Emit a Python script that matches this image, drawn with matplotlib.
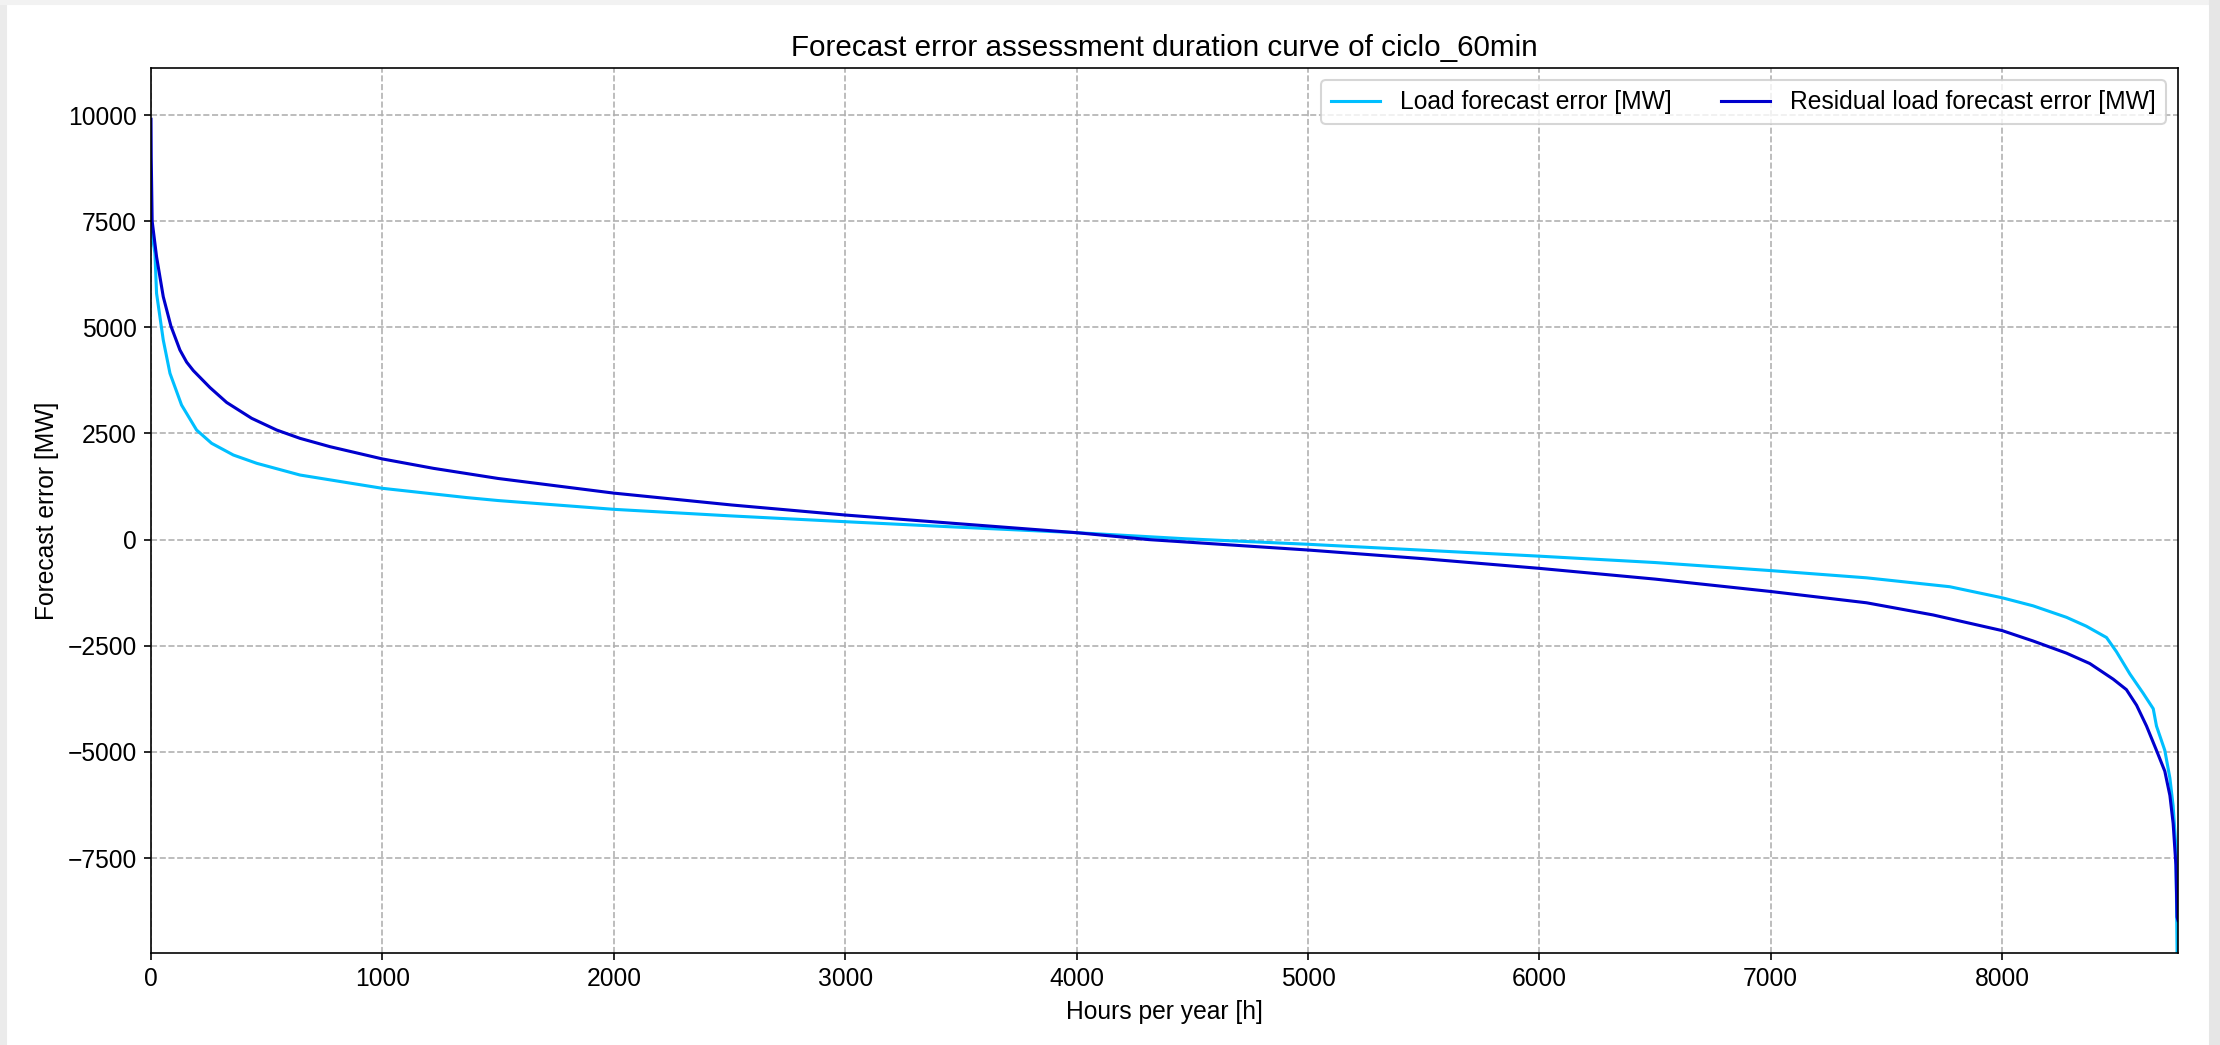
import matplotlib
matplotlib.use("Agg")
import matplotlib.pyplot as plt
from matplotlib.patches import Rectangle

plt.rcParams['font.family'] = ['Liberation Sans', 'DejaVu Sans']
plt.rcParams['font.size'] = 12

# Data (duration curves, sorted descending)
load_hours = [0, 2, 10, 17, 24, 53, 82, 132, 197, 262, 356, 457, 644, 1000,
              1364, 1500, 2000, 2500, 3000, 3500, 4000, 4470, 5000, 5500,
              6000, 6500, 7000, 7414, 7774, 8000, 8134, 8278, 8364, 8451,
              8494, 8552, 8609, 8653, 8667, 8703, 8725, 8739, 8751, 8756,
              8760]
load_error = [8200, 7400, 7000, 6743, 5801, 4700, 3916, 3170, 2581, 2268,
              1992, 1797, 1521, 1208, 990, 920, 713, 560, 422, 290, 163, 20,
              -110, -250, -390, -540, -730, -900, -1110, -1370, -1560, -1830,
              -2040, -2306, -2640, -3164, -3615, -3983, -4391, -4964, -5618,
              -6272, -7253, -9707, -10500]

resid_hours = [0, 1, 5, 24, 53, 86, 125, 154, 183, 255, 327, 435, 543, 644,
               774, 1000, 1220, 1500, 2000, 2510, 3000, 3500, 4000, 4313,
               5000, 5500, 6000, 6500, 7000, 7414, 7702, 8000, 8134, 8278,
               8379, 8480, 8537, 8581, 8624, 8667, 8703, 8725, 8739, 8751,
               8756, 8760]
resid_error = [9900, 9000, 7500, 6663, 5720, 5030, 4465, 4180, 3980, 3580,
               3230, 2857, 2581, 2385, 2188, 1900, 1679, 1440, 1095, 815, 579,
               370, 163, 0, -245, -450, -677, -930, -1222, -1488, -1775,
               -2143, -2388, -2674, -2919, -3287, -3533, -3901, -4391, -4964,
               -5455, -6027, -6681, -7662, -8889, -8970]

x_ticks = [0, 1000, 2000, 3000, 4000, 5000, 6000, 7000, 8000]
y_ticks = [-7500, -5000, -2500, 0, 2500, 5000, 7500, 10000]

fig = plt.figure(figsize=(2220 / 148, 1045 / 148), dpi=148)
W, H = 2220, 1045

# screenshot-like border
fig.patches.append(Rectangle((0, 0), 6 / W, 1, transform=fig.transFigure,
                             color='#ebebeb', zorder=0))
fig.patches.append(Rectangle((0, 1 - 4 / H), 1, 4 / H, transform=fig.transFigure,
                             color='#f2f2f2', zorder=0))
fig.patches.append(Rectangle((2210 / W, 0), 10 / W, 1, transform=fig.transFigure,
                             color='#e6e6e6', zorder=0))

ax = fig.add_axes([151 / W, 1 - 953 / H, (2178 - 151) / W, (953 - 68) / H])

ax.plot(load_hours, load_error, color='deepskyblue', lw=1.5,
        label='Load forecast error [MW]')
ax.plot(resid_hours, resid_error, color='mediumblue', lw=1.5,
        label='Residual load forecast error [MW]')

ax.set_xlim(0, 8760)
ax.set_ylim(-9736, 11107)
ax.set_xticks(x_ticks)
ax.set_yticks(y_ticks)
ax.grid(True, linestyle='--', color='#b0b0b0', lw=0.8)
ax.set_axisbelow(True)

ax.set_title('Forecast error assessment duration curve of ciclo_60min', fontsize=14.4)
ax.set_xlabel('Hours per year [h]')
ax.set_ylabel('Forecast error [MW]')
ax.legend(loc='upper right', ncol=2)

fig.savefig('out.png', dpi=148)
